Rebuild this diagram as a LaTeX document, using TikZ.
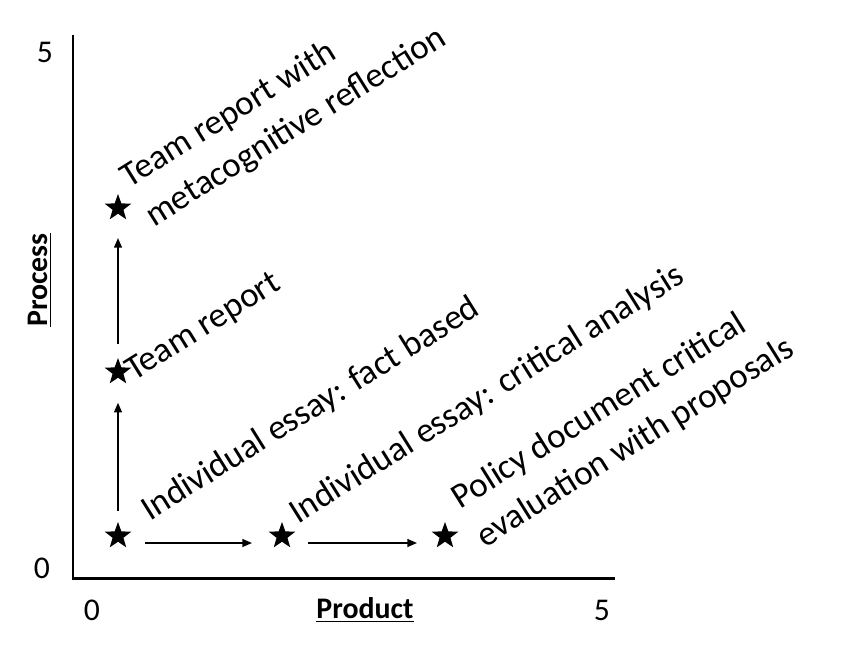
\documentclass[tikz,border=0pt]{standalone}
\usepackage{fontspec}
\setmainfont{Carlito}
\usepackage{tikz}
\usetikzlibrary{arrows.meta,positioning,shapes.geometric}
\definecolor{chInk}{HTML}{000000}
\tikzset{
  % Star marker for a task
  taskstar/.style={star,star points=5,star point ratio=2.45,
    minimum size=0.56cm,inner sep=0pt,fill=chInk,draw=none},
  % Slanted task label (base = baseline of the last line)
  tasklbl/.style={rotate=32,anchor=base west,inner sep=0pt,outer sep=0pt,
    align=left,font=\fontsize{20}{26}\selectfont,text=chInk},
  % Axis ticks and titles
  ticklbl/.style={font=\fontsize{18}{21}\selectfont,text=chInk,inner sep=0pt},
  axttl/.style={font=\fontsize{17}{20}\selectfont\bfseries,text=chInk,inner sep=0pt},
  % Axes and arrows
  axis/.style={line width=1.7pt,color=chInk},
  arr/.style={-{Triangle[length=5.5pt,width=4.5pt]},line width=0.85pt,color=chInk},
}
\begin{document}
\begin{tikzpicture}[x=0.02cm,y=-0.02cm]
  \useasboundingbox (0,0) rectangle (856,654);

  % Axes
  \coordinate (ytop) at (73,35);
  \coordinate (orig) at (73,578);
  \coordinate (xend) at (615,578);
  \draw[axis] (ytop) -- (orig) -- (xend);

  % Tick labels and titles
  \node[ticklbl] (y5) at (45,52) {5};
  \node[ticklbl] (y0) at (42,568) {0};
  \node[ticklbl] (x0) at (92,610) {0};
  \node[ticklbl] (x5) at (602,610) {5};
  \node[axttl] (xttl) at (365,610) {\underline{Product}};
  \node[axttl,rotate=90] (yttl) at (40,280) {\underline{Process}};

  % Tasks
  \node[taskstar] (essay) at (118,536) {};
  \node[taskstar] (crit) at (282,536) {};
  \node[taskstar] (policy) at (445,536) {};
  \node[taskstar] (team) at (118,372) {};
  \node[taskstar] (meta) at (118,208) {};

  % Labels
  \node[tasklbl] (lEssay) at (150,521) {Individual essay: fact based};
  \node[tasklbl] (lCrit) at (298,524) {Individual essay: critical analysis};
  \node[tasklbl] (lPolicy) at (485,548) {Policy document critical\\evaluation with proposals};
  \node[tasklbl] (lTeam) at (134,381) {Team report};
  \node[tasklbl] (lMeta) at (154,227) {Team report with\\metacognitive reflection};

  % Progression arrows
  \draw[arr,shorten <=5.7pt,shorten >=14pt] (essay) -- (team);
  \draw[arr,shorten <=7.4pt,shorten >=13.6pt] (team) -- (meta);
  \draw[arr] ([xshift=0.54cm,yshift=-0.14cm]essay.center) -- ([xshift=-0.6cm,yshift=-0.14cm]crit.center);
  \draw[arr] ([xshift=0.52cm,yshift=-0.14cm]crit.center) -- ([xshift=-0.56cm,yshift=-0.14cm]policy.center);
\end{tikzpicture}
\end{document}
